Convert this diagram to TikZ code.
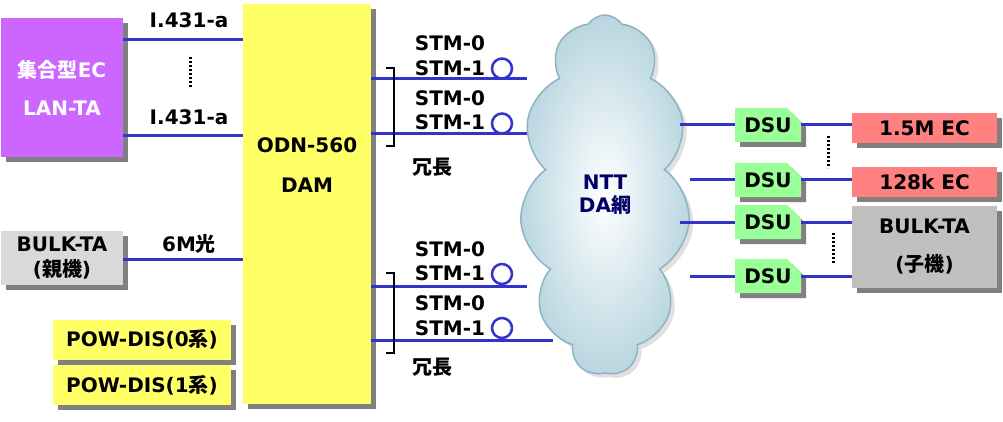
\documentclass[tikz,border=0pt]{standalone}
\usepackage{fontspec}
\setmainfont{DejaVu Sans}
\newfontfamily\cjkfont{Noto Sans CJK JP}
\newcommand{\ja}[1]{{\cjkfont\bfseries #1}}
\usetikzlibrary{shapes.symbols,shapes.misc,shadows}
\definecolor{linkblue}{HTML}{3333CC}
\definecolor{ecpurple}{HTML}{CC66FF}
\definecolor{damyellow}{HTML}{FFFF66}
\definecolor{bulkgray}{HTML}{D9D9D9}
\definecolor{subgray}{HTML}{C0C0C0}
\definecolor{ecred}{HTML}{FF8080}
\definecolor{dsugreen}{HTML}{99FF99}
\definecolor{navy}{HTML}{000066}
\definecolor{cloudedge}{HTML}{8FB3C2}
\definecolor{cloudfill}{HTML}{B9D6E0}
\tikzset{
  box/.style={inner sep=0pt, align=center, drop shadow={shadow xshift=5pt,shadow yshift=-5pt,fill=black!50,opacity=1}},
  lead/.style={font=\bfseries\fontsize{20}{#1}\selectfont},
  link/.style={draw=linkblue, line width=3pt},
  dots/.style={line width=3pt, dash pattern=on 2pt off 2pt},
  dsubox/.style={box, chamfered rectangle, chamfered rectangle corners=north east, chamfered rectangle xsep=7pt, chamfered rectangle ysep=7pt, fill=dsugreen, minimum width=66pt, minimum height=34pt}
}
\begin{document}
\begin{tikzpicture}[x=1pt,y=-1pt,lead=24]
	\useasboundingbox[fill=white] (0,0) rectangle (1003,422);
	% left side
	\node[box,fill=ecpurple,text=white,minimum width=122pt,minimum height=139pt,lead=38] (lan) at (62,87.5) {\ja{集合型}EC\\LAN-TA};
	\node[box,fill=bulkgray,minimum width=122pt,minimum height=54pt,lead=25] (bulkp) at (62,258) {BULK-TA\\(\ja{親機})};
	\node[box,fill=damyellow,minimum width=178pt,minimum height=40pt] (pow0) at (142,339.5) {POW-DIS(0\ja{系})};
	\node[box,fill=damyellow,minimum width=178pt,minimum height=40pt] (pow1) at (142,385) {POW-DIS(1\ja{系})};
	\node[box,fill=damyellow,minimum width=128pt,minimum height=400pt] (dam) at (307,204) {};
	\node[lead=40,align=center] (damtxt) at (307,165) {ODN-560\\DAM};
	\coordinate (l1) at (243,40);
	\coordinate (l2) at (243,136);
	\coordinate (l3) at (243,259);
	\draw[link] (lan.east |- l1) -- (l1);
	\draw[link] (lan.east |- l2) -- (l2);
	\draw[link] (bulkp.east |- l3) -- (l3);
	\node (ia1) at (189,20) {I.431-a};
	\node (ia2) at (189,117) {I.431-a};
	\node (opt) at (189,244) {6M\ja{光}};
	\draw[dots] (190,57) -- (190,88);
	% cloud
	\node[cloud,cloud puffs=11,cloud puff arc=115,aspect=0.47,minimum width=170pt,minimum height=360pt,inner sep=0pt,
		draw=cloudedge,line width=1.5pt,inner color=white,outer color=cloudfill,
		drop shadow={shadow xshift=4pt,shadow yshift=-4pt,fill=black!12,opacity=1},
		text=navy,lead=23,align=center] (cloud) at (605,195) {NTT\\DA\ja{網}};
	% DAM to cloud
	\coordinate (c1) at (527,79);
	\coordinate (c2) at (527,134);
	\coordinate (c3) at (527,286);
	\coordinate (c4) at (553,340);
	\draw[link] (dam.east |- c1) -- (c1);
	\draw[link] (dam.east |- c2) -- (c2);
	\draw[link] (dam.east |- c3) -- (c3);
	\draw[link] (dam.east |- c4) -- (c4);
	\draw[line width=1.5pt] (386,68) -- (394,68) -- (394,146) -- (386,146);
	\draw[line width=1.5pt] (386,273) -- (394,273) -- (394,353) -- (386,353);
	\node (s1) at (450,43) {STM-0};
	\node (s2) at (450,68) {STM-1};
	\node (s3) at (450,98) {STM-0};
	\node (s4) at (450,122) {STM-1};
	\node (s5) at (450,249) {STM-0};
	\node (s6) at (450,273) {STM-1};
	\node (s7) at (450,303) {STM-0};
	\node (s8) at (450,328) {STM-1};
	\draw[linkblue,line width=2.5pt] (502,68.5) circle[radius=10pt];
	\draw[linkblue,line width=2.5pt] (502,123.5) circle[radius=10pt];
	\draw[linkblue,line width=2.5pt] (502,274) circle[radius=10pt];
	\draw[linkblue,line width=2.5pt] (502,328) circle[radius=10pt];
	\node (red1) at (432,167) {\ja{冗長}};
	\node (red2) at (432,367) {\ja{冗長}};
	% right side
	\node[dsubox] (dsu1) at (768,125) {DSU};
	\node[dsubox] (dsu2) at (768,180) {DSU};
	\node[dsubox] (dsu3) at (768,222) {DSU};
	\node[dsubox] (dsu4) at (768,276) {DSU};
	\node[box,fill=ecred,minimum width=145pt,minimum height=30pt] (ec1) at (924.5,128) {1.5M EC};
	\node[box,fill=ecred,minimum width=145pt,minimum height=30pt] (ec2) at (924.5,182) {128k EC};
	\node[box,fill=subgray,minimum width=145pt,minimum height=82pt,lead=38] (bulkc) at (924.5,247) {BULK-TA\\(\ja{子機})};
	\coordinate (r1) at (680,125);
	\coordinate (r2) at (690,180);
	\coordinate (r3) at (680,222);
	\coordinate (r4) at (690,276);
	\draw[link] (r1) -- (dsu1.west);
	\draw[link] (r2) -- (dsu2.west);
	\draw[link] (r3) -- (dsu3.west);
	\draw[link] (r4) -- (dsu4.west);
	\draw[link] (dsu1.east) -- (dsu1.east -| ec1.west);
	\draw[link] (dsu2.east) -- (dsu2.east -| ec2.west);
	\draw[link] (dsu3.east) -- (dsu3.east -| bulkc.west);
	\draw[link] (dsu4.east) -- (dsu4.east -| bulkc.west);
	\draw[dots] (828,136) -- (828,168);
	\draw[dots] (833,233) -- (833,264);
\end{tikzpicture}
\end{document}
